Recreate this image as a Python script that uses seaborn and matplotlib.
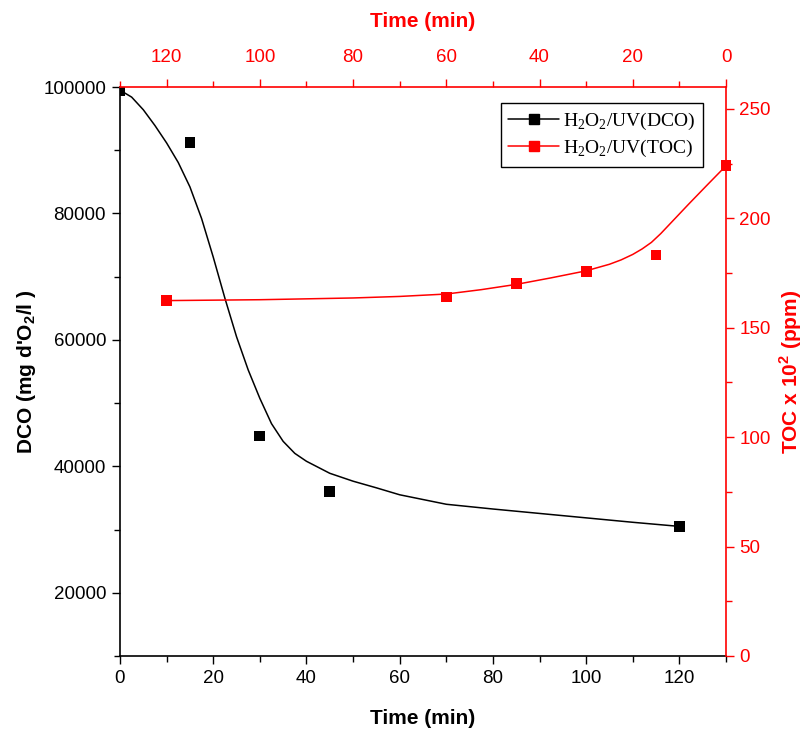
import matplotlib
matplotlib.use("Agg")
import matplotlib.pyplot as plt
from matplotlib.lines import Line2D
from matplotlib.ticker import MultipleLocator
import seaborn as sns
import pandas as pd

# measured points, DCO (bottom time axis)
dco_time = [0, 15, 30, 45, 120]
dco_value = [99500, 91200, 44800, 36000, 30500]

# fitted DCO curve
dco_fit_time = [0, 2.5, 5, 7.5, 10, 12.5, 15, 17.5, 20, 22.5, 25, 27.5, 30, 32.5,
                35, 37.5, 40, 45, 50, 55, 60, 70, 80, 90, 100, 110, 120]
dco_fit_value = [99500, 98400, 96400, 93900, 91150, 88050, 84200, 79200, 73100, 66600,
                 60500, 55250, 50750, 46750, 43950, 42050, 40800, 38900, 37650, 36600,
                 35500, 34000, 33250, 32550, 31850, 31150, 30500]

# measured points, TOC (top time axis, reversed)
toc_time = [120, 60, 45, 30, 15, 0]
toc_value = [162.4, 164, 170.3, 175.6, 183.2, 224]

# fitted TOC curve
toc_fit_time = [120, 110, 100, 90, 80, 70, 60, 52.5, 45, 37.5, 30, 25, 22.5, 20,
                18, 16, 14, 12, 8, 4, 0]
toc_fit_value = [162.4, 162.6, 162.8, 163.2, 163.6, 164.3, 165.4, 167.4, 169.8, 172.8,
                 176, 179, 181, 183.5, 186, 189, 193, 197.5, 206.5, 215.3, 224]

sns.set_theme(style="ticks")
plt.rcParams["font.family"] = ["Liberation Sans", "DejaVu Sans"]
plt.rcParams["text.color"] = "black"
plt.rcParams["axes.labelcolor"] = "black"
plt.rcParams["xtick.direction"] = "out"
plt.rcParams["ytick.direction"] = "out"

RED = "#ff0000"
fig = plt.figure(figsize=(8.06, 7.34), dpi=100)
ax = fig.add_axes([120 / 806, 1 - 656 / 734, 606 / 806, 569 / 734])
ax_r = ax.twinx()
ax_t = ax_r.twiny()

dco_fit = pd.DataFrame({"t": dco_fit_time, "v": dco_fit_value})
dco_pts = pd.DataFrame({"t": dco_time, "v": dco_value})
toc_fit = pd.DataFrame({"t": toc_fit_time, "v": toc_fit_value})
toc_pts = pd.DataFrame({"t": toc_time, "v": toc_value})

sns.lineplot(data=dco_fit, x="t", y="v", ax=ax, color="black", lw=1.1, sort=False)
sns.scatterplot(data=dco_pts, x="t", y="v", ax=ax, color="black", marker="s", s=60,
                edgecolor="none", zorder=3)
sns.lineplot(data=toc_fit, x="t", y="v", ax=ax_t, color=RED, lw=1.1, sort=False)
sns.scatterplot(data=toc_pts, x="t", y="v", ax=ax_t, color=RED, marker="s", s=60,
                edgecolor="none", zorder=3, clip_on=False)

ax.set_xlim(0, 130)
ax.set_ylim(10000, 100000)
ax_r.set_ylim(0, 260)
ax_t.set_xlim(130, 0)

ax.xaxis.set_major_locator(MultipleLocator(20))
ax.xaxis.set_minor_locator(MultipleLocator(10))
ax.yaxis.set_major_locator(MultipleLocator(20000))
ax.yaxis.set_minor_locator(MultipleLocator(10000))
ax_r.yaxis.set_major_locator(MultipleLocator(50))
ax_r.yaxis.set_minor_locator(MultipleLocator(25))
ax_t.xaxis.set_major_locator(MultipleLocator(20))
ax_t.xaxis.set_minor_locator(MultipleLocator(10))

fs_tick = 13.5
fs_lab = 15
ax.tick_params(axis="both", which="major", length=6, width=1, labelsize=fs_tick,
               colors="black", pad=4)
ax.tick_params(axis="both", which="minor", length=4, width=1, colors="black")
ax_r.tick_params(axis="y", which="major", length=6, width=1, labelsize=fs_tick, colors=RED)
ax_r.tick_params(axis="y", which="minor", length=4, width=1, colors=RED)
ax_t.tick_params(axis="x", which="major", length=6, width=1, labelsize=fs_tick,
                 colors=RED, pad=9)
ax_t.tick_params(axis="x", which="minor", length=4, width=1, colors=RED)

for a in (ax, ax_r, ax_t):
    for s in a.spines.values():
        s.set_linewidth(1.2)
ax.spines["top"].set_visible(False)
ax.spines["right"].set_visible(False)
ax_r.spines["top"].set_visible(False)
ax_r.spines["left"].set_visible(False)
ax_r.spines["bottom"].set_visible(False)
ax_r.spines["right"].set_color(RED)
ax_t.spines["left"].set_visible(False)
ax_t.spines["bottom"].set_visible(False)
ax_t.spines["right"].set_visible(False)
ax_t.spines["top"].set_color(RED)
ax.spines["left"].set_color("black")
ax.spines["bottom"].set_color("black")

ax.set_xlabel("Time (min)", fontsize=fs_lab, fontweight="bold", labelpad=16)
ax.set_ylabel("DCO (mg d'O$_\\mathregular{2}$/l )", fontsize=fs_lab, fontweight="bold",
              labelpad=4)
ax_r.set_ylabel("TOC x 10$^\\mathregular{2}$ (ppm)", fontsize=fs_lab, fontweight="bold",
                color=RED, labelpad=5)
ax_t.set_xlabel("Time (min)", fontsize=fs_lab, fontweight="bold", color=RED, labelpad=16)

handles = [
    Line2D([], [], color="black", lw=1.1, marker="s", markersize=7),
    Line2D([], [], color=RED, lw=1.1, marker="s", markersize=7),
]
labels = ["H$_\\mathregular{2}$O$_\\mathregular{2}$/UV(DCO)",
          "H$_\\mathregular{2}$O$_\\mathregular{2}$/UV(TOC)"]
leg = ax_t.legend(handles, labels, loc="upper right",
                  bbox_to_anchor=((703 - 120) / 606, (656 - 103) / 569),
                  borderaxespad=0, fancybox=False, framealpha=1, edgecolor="black",
                  handlelength=2.6, prop={"family": "Liberation Serif", "size": 14},
                  labelspacing=0.3, handletextpad=0.2, borderpad=0.4)
leg.get_frame().set_linewidth(1.0)

fig.savefig("out.png", dpi=100)
